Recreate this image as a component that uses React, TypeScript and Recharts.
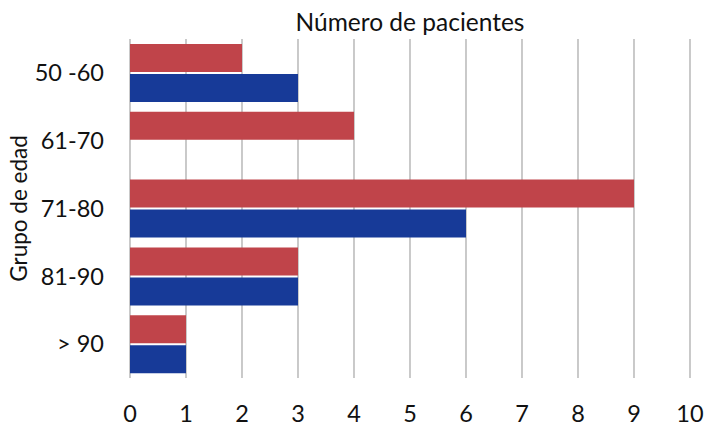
import React from 'react';
import { BarChart, Bar, XAxis, YAxis, CartesianGrid } from 'recharts';

const ageGroups = ['50 -60', '61-70', '71-80', '81-90', '> 90'];
const redSeries = [2, 4, 9, 3, 1];
const blueSeries = [3, 0, 6, 3, 1];
const xTicks = [0, 1, 2, 3, 4, 5, 6, 7, 8, 9, 10];

const data = ageGroups.map((g, i) => ({ group: g, a: redSeries[i], b: blueSeries[i] }));

const FONT = 'Lato, "Open Sans", sans-serif';

export default function App() {
  return (
    <div style={{ position: 'absolute', left: 0, top: 0, width: 704, height: 427, background: '#fff', fontFamily: FONT }}>
      <div
        style={{
          position: 'absolute',
          left: 130,
          width: 560,
          top: 7,
          textAlign: 'center',
          fontSize: 24.5,
          color: '#111',
          lineHeight: '30px',
        }}
      >
        Número de pacientes
      </div>
      <BarChart
        width={704}
        height={427}
        data={data}
        layout="vertical"
        margin={{ top: 39, right: 14, bottom: 19, left: 0 }}
        barCategoryGap={5}
        barGap={2}
      >
        <CartesianGrid horizontal={false} stroke="#A6A6A6" strokeWidth={1.2} />
        <XAxis
          type="number"
          domain={[0, 10]}
          ticks={xTicks}
          axisLine={false}
          tickLine={false}
          tickMargin={21}
          height={30}
          interval={0}
          tick={{ fill: '#111', fontSize: 23.5, fontFamily: FONT }}
        />
        <YAxis
          type="category"
          dataKey="group"
          width={130}
          axisLine={false}
          tickLine={false}
          tickSize={0}
          tickMargin={26}
          tick={{ fill: '#111', fontSize: 23.5, fontFamily: FONT }}
          label={{
            value: 'Grupo de edad',
            angle: -90,
            position: 'insideLeft',
            offset: 19,
            style: { textAnchor: 'middle', fill: '#111', fontSize: 22.5, fontFamily: FONT },
          }}
        />
        <Bar dataKey="a" fill="#C0444A" isAnimationActive={false} />
        <Bar dataKey="b" fill="#173A98" isAnimationActive={false} />
      </BarChart>
    </div>
  );
}
